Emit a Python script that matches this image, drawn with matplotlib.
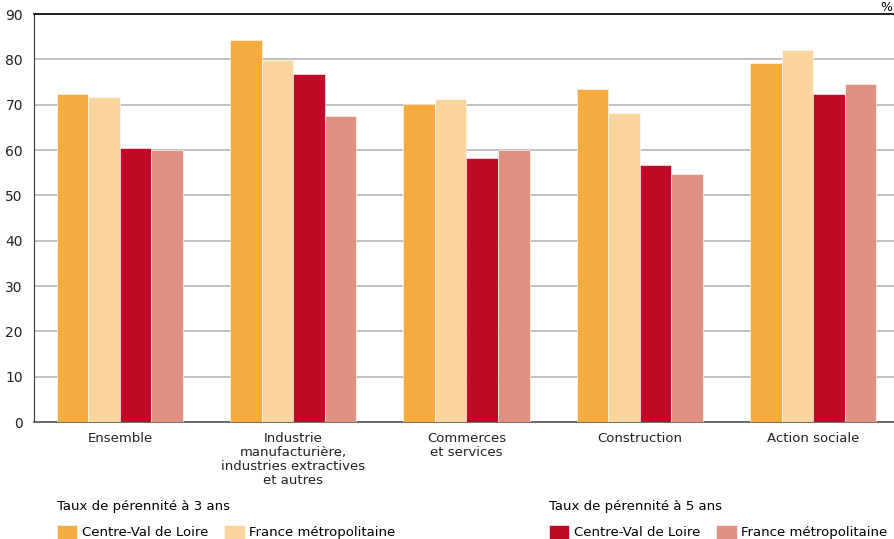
from matplotlib import pyplot as plt
import numpy as np

plt.rcParams["font.family"] = "DejaVu Sans"
plt.rcParams["font.size"] = 9.5

categories = ["Ensemble",
              "Industrie\nmanufacturière,\nindustries extractives\net autres",
              "Commerces\net services",
              "Construction",
              "Action sociale"]

cvl_3ans = [72.4, 84.2, 70.2, 73.4, 79.3]
fm_3ans = [71.8, 79.9, 71.3, 68.1, 82.1]
cvl_5ans = [60.4, 76.7, 58.3, 56.8, 72.4]
fm_5ans = [60.0, 67.5, 60.0, 54.6, 74.5]

series = [cvl_3ans, fm_3ans, cvl_5ans, fm_5ans]
colors = ["#F5AB3E", "#FBD5A0", "#BE0A27", "#DE917E"]

fig = plt.figure(figsize=(8.95, 5.39), dpi=100)
ax = fig.add_axes([34 / 895, 1 - 422 / 539, 1 - 34 / 895, (422 - 14) / 539])

x = np.arange(len(categories))
w = 0.182
bars = []
for i, (vals, c) in enumerate(zip(series, colors)):
    b = ax.bar(x + (i - 1.5) * w, vals, w, color=c, edgecolor="#ffffff", linewidth=0.4, zorder=3)
    bars.append(b)

ax.set_ylim(0, 90)
ax.set_xlim(-0.496, 4.473)
ax.set_yticks(range(0, 91, 10))
ax.set_xticks(x)
ax.set_xticklabels(categories, linespacing=1.12)
ax.tick_params(axis="both", length=0, labelsize=9.5, colors="#222222")
ax.tick_params(axis="y", labelsize=10, pad=8)
ax.tick_params(axis="x", pad=7)
ax.yaxis.grid(True, color="#b5b5b5", linewidth=1.2, zorder=0)
ax.set_axisbelow(True)

ax.spines["right"].set_visible(False)
ax.spines["top"].set_color("black")
ax.spines["top"].set_linewidth(1.2)
ax.spines["left"].set_color("#333333")
ax.spines["bottom"].set_color("#555555")
ax.spines["bottom"].set_linewidth(1.2)

fig.text(0.997, 0.999, "%", ha="right", va="top", fontsize=9)

leg_kw = dict(ncol=2, frameon=False, loc="lower left", alignment="left",
              handlelength=1.55, handleheight=1.25, handletextpad=0.35,
              columnspacing=1.2, borderpad=0, borderaxespad=0,
              title_fontsize=9.5, fontsize=9.5)
leg1 = fig.legend(bars[:2], ["Centre-Val de Loire", "France métropolitaine"],
                  title="Taux de pérennité à 3 ans",
                  bbox_to_anchor=(57 / 895, 0.0), **leg_kw)
leg2 = fig.legend(bars[2:], ["Centre-Val de Loire", "France métropolitaine"],
                  title="Taux de pérennité à 5 ans",
                  bbox_to_anchor=(549 / 895, 0.0), **leg_kw)
for leg in (leg1, leg2):
    leg._legend_box.sep = 8

plt.savefig("out.png", dpi=100)
